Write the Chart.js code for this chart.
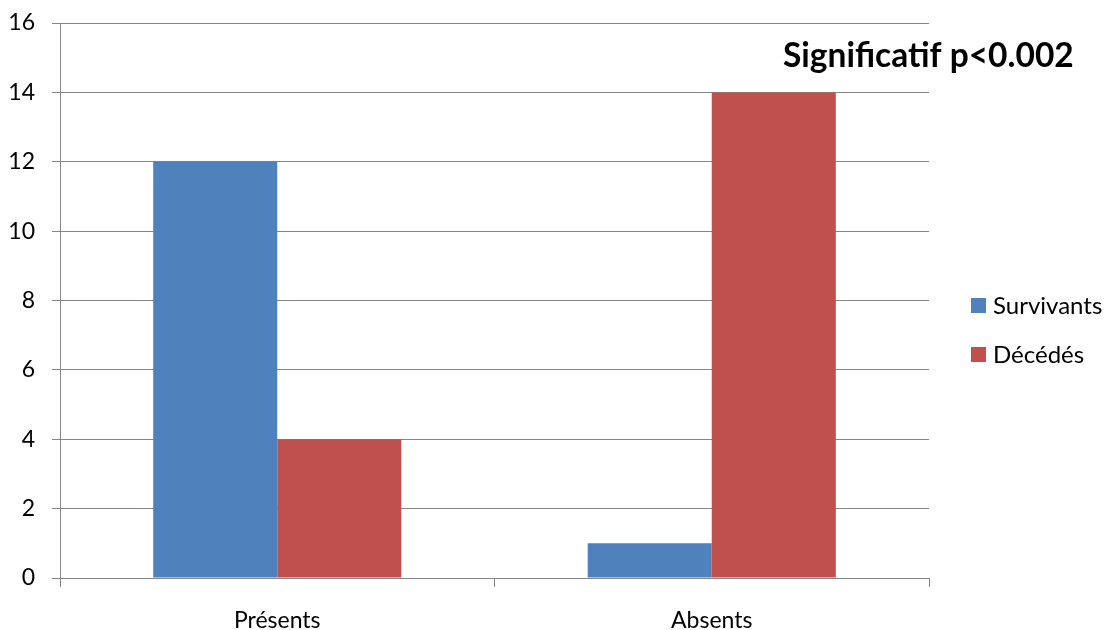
<!DOCTYPE html>
<html>
<head>
<meta charset="utf-8">
<script src="https://cdn.jsdelivr.net/npm/chart.js@4"></script>
<style>
  html, body { margin: 0; padding: 0; background: #fff; }
  #wrap { width: 1113px; height: 630px; }
</style>
</head>
<body>
<div id="wrap"><canvas id="chart" width="1113" height="630"></canvas></div>
<script>
const categories = ['Présents', 'Absents'];
const survivants = [12, 1];
const decedes = [4, 14];
const seriesNames = ['Survivants', 'Décédés'];
const note = 'Significatif p<0.002';

const FONT = 'Lato';
const GRID = '#868686';

// legend + annotation drawn on the right side, like the Excel original
const sidePlugin = {
    id: 'sideStuff',
    afterDraw(chart) {
        const ctx = chart.ctx;
        ctx.save();
        ctx.fillStyle = '#000';
        ctx.font = `bold 33.5px ${FONT}`;
        ctx.textBaseline = 'alphabetic';
        ctx.textAlign = 'left';
        ctx.fillText(note, 783, 67);

        ctx.font = `24px ${FONT}`;
        chart.data.datasets.forEach((ds, i) => {
            const y = 298 + i * 49;
            ctx.fillStyle = ds.backgroundColor;
            ctx.fillRect(971, y, 15, 15);
            ctx.fillStyle = '#000';
            ctx.fillText(ds.label, 993, y + 16);
        });
        ctx.restore();
    }
};

const ctx = document.getElementById('chart').getContext('2d');
new Chart(ctx, {
    type: 'bar',
    data: {
        labels: categories,
        datasets: [
            { label: seriesNames[0], data: survivants, backgroundColor: '#4F81BD', borderWidth: 0 },
            { label: seriesNames[1], data: decedes, backgroundColor: '#C0504D', borderWidth: 0 }
        ]
    },
    options: {
        responsive: false,
        animation: false,
        layout: { padding: { left: 0, top: 23, right: 184, bottom: 0 } },
        plugins: {
            legend: { display: false },
            tooltip: { enabled: false }
        },
        datasets: {
            bar: { categoryPercentage: 0.571, barPercentage: 1 }
        },
        scales: {
            x: {
                afterFit: s => { s.height = 52; },
                grid: { drawOnChartArea: false, color: GRID, tickLength: 9, offset: true },
                border: { color: GRID },
                ticks: { color: '#000', padding: 20, font: { family: FONT, size: 23 } }
            },
            y: {
                min: 0,
                max: 16,
                afterFit: s => { s.width = 60; s.paddingTop = 0; s.paddingBottom = 0; },
                grid: { color: GRID, tickLength: 8 },
                border: { color: GRID },
                ticks: { stepSize: 2, color: '#000', padding: 17, font: { family: FONT, size: 23 } }
            }
        }
    },
    plugins: [sidePlugin]
});
</script>
</body>
</html>
